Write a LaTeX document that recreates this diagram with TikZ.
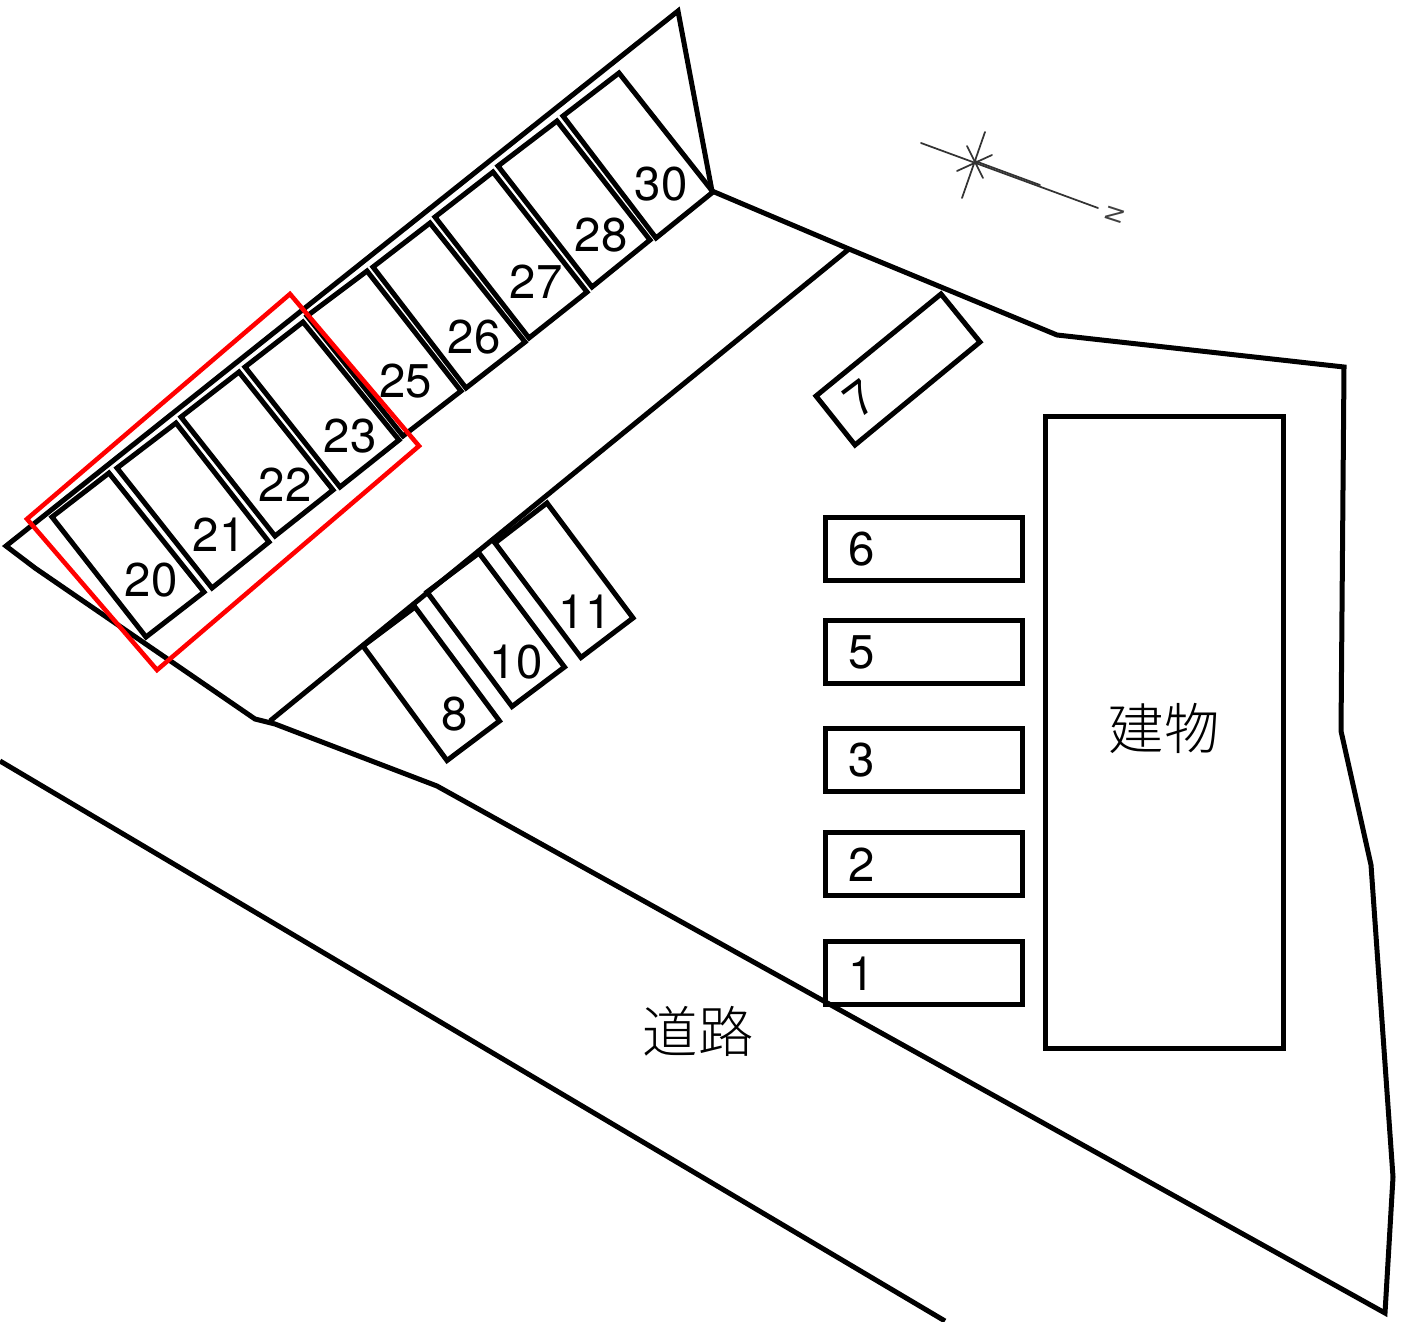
\documentclass[tikz,border=0pt]{standalone}
\usepackage{fontspec}
\setmainfont{TeX Gyre Heros}
\newfontfamily\jpfont{Noto Sans CJK JP Light}
\tikzset{
  lot/.style={draw=black,line width=3.75pt,line join=miter,fill=none},
  redbox/.style={draw=red,line width=3.4pt,line join=miter},
  num/.style={font=\fontsize{35.5}{36}\selectfont,inner sep=0pt,text=black},
  kanji/.style={font=\jpfont\fontsize{41.5}{42}\selectfont,inner sep=0pt,text=black},
  comp/.style={draw=black!80,line width=1.3pt,line cap=round}
}
\begin{document}
\begin{tikzpicture}[x=0.75pt,y=-0.75pt]
\useasboundingbox (0,0) rectangle (1403,1321);
% site outline
\draw[lot] (6,546) -- (678,11) -- (712,191) -- (849,249) -- (1057,335) -- (1344,367) -- (1341,731) -- (1371,865) -- (1393,1177) -- (1385,1313) -- (437,786) -- (275,724) -- (255,719) -- (35,568) -- cycle;
\coordinate (lineA) at (849,249); \coordinate (lineB) at (270,721);
\draw[lot] (lineA) -- (lineB);
\coordinate (roadA) at (0,761); \coordinate (roadB) at (945,1321);
\draw[lot] (roadA) -- (roadB);
% upper row
\draw[lot] (52,517) -- (109,473) -- (204,592) -- (146,637) -- cycle;
\draw[lot] (117,468) -- (176,423) -- (269,542) -- (212,588) -- cycle;
\draw[lot] (181,417) -- (239,372) -- (333,490) -- (275,536) -- cycle;
\draw[lot] (245,367) -- (303,322) -- (399,440) -- (340,487) -- cycle;
\draw[lot] (307,316) -- (367,271) -- (461,391) -- (403,436) -- cycle;
\draw[lot] (373,267) -- (430,223) -- (525,342) -- (466,388) -- cycle;
\draw[lot] (435,217) -- (493,172) -- (587,292) -- (529,338) -- cycle;
\draw[lot] (498,166) -- (557,121) -- (650,240) -- (592,287) -- cycle;
\draw[lot] (563,116) -- (619,73) -- (713,192) -- (656,238) -- cycle;
% lower row
\draw[lot] (363,646) -- (415,607) -- (499.5,721) -- (447,760.5) -- cycle;
\draw[lot] (427,592) -- (479,553) -- (564.5,667) -- (512,706.5) -- cycle;
\draw[lot] (495,543) -- (547,503) -- (633,618) -- (581,657.5) -- cycle;
% slot 7
\draw[lot] (941,294) -- (980,342) -- (855,445) -- (816,396) -- cycle;
% right column
\draw[lot] (825,517.5) rectangle (1022.5,580.5);
\draw[lot] (825,620.5) rectangle (1022.5,683.5);
\draw[lot] (825,728.5) rectangle (1022.5,791.5);
\draw[lot] (825,832.5) rectangle (1022.5,895.5);
\draw[lot] (825,941.5) rectangle (1022.5,1004.5);
\draw[lot] (1045.5,416.5) rectangle (1283,1048);
% red frame
\draw[redbox] (290,294) -- (419,446) -- (157,670) -- (27,519) -- cycle;
% labels
\node[num] (n20) at (151,580) {20};
\node[num] (n21) at (219,535) {21};
\node[num] (n22) at (285,485) {22};
\node[num] (n23) at (350,436) {23};
\node[num] (n25) at (405.5,381) {25};
\node[num] (n26) at (474,337) {26};
\node[num] (n27) at (536,282) {27};
\node[num] (n28) at (601,235) {28};
\node[num] (n30) at (661,184) {30};
\node[num] (n8) at (455,714) {8};
\node[num] (n10) at (516,662) {10};
\node[num] (n11) at (585,612) {11};
\node[num,rotate=37] (n7) at (860,398) {7};
\node[num] (n6) at (862,549) {6};
\node[num] (n5) at (862,652) {5};
\node[num] (n3) at (862,760) {3};
\node[num] (n2) at (862,865) {2};
\node[num] (n1) at (862,974) {1};
\node[kanji] (bld) at (1164,728) {建物};
\node[kanji] (road) at (698,1031) {道路};
% compass
\coordinate (cc) at (975,162);
\draw[comp] (921,143) -- (1098,208);
\draw[comp] (975,161) -- (1040,185);
\draw[comp] (985,132) -- (962,198);
\draw[comp] (967,146) -- (983,178);
\draw[comp] (957,171) -- (992,155);
\node[font=\fontsize{17}{17}\selectfont,text=black!75,rotate=-108,inner sep=0pt] (north) at (1115,215) {N};
\end{tikzpicture}
\end{document}
